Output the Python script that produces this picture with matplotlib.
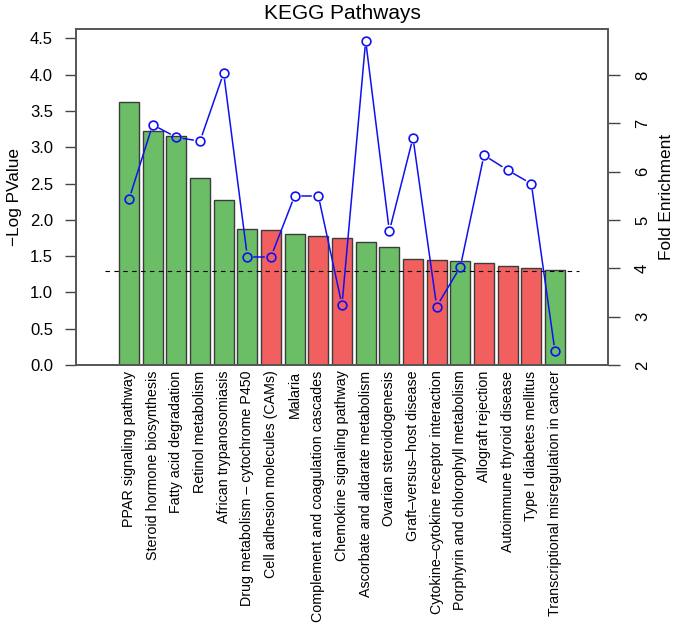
import matplotlib
matplotlib.use("Agg")
import matplotlib.pyplot as plt
import numpy as np

plt.rcParams['font.family'] = ['Liberation Sans', 'DejaVu Sans']

pathways = [
    "PPAR signaling pathway",
    "Steroid hormone biosynthesis",
    "Fatty acid degradation",
    "Retinol metabolism",
    "African trypanosomiasis",
    "Drug metabolism \u2013 cytochrome P450",
    "Cell adhesion molecules (CAMs)",
    "Malaria",
    "Complement and coagulation cascades",
    "Chemokine signaling pathway",
    "Ascorbate and aldarate metabolism",
    "Ovarian steroidogenesis",
    "Graft\u2013versus\u2013host disease",
    "Cytokine\u2013cytokine receptor interaction",
    "Porphyrin and chlorophyll metabolism",
    "Allograft rejection",
    "Autoimmune thyroid disease",
    "Type I diabetes mellitus",
    "Transcriptional misregulation in cancer",
]
neg_log_p = [3.63, 3.23, 3.15, 2.58, 2.28, 1.87, 1.86, 1.80, 1.78, 1.75,
             1.69, 1.63, 1.46, 1.44, 1.43, 1.41, 1.37, 1.34, 1.31]
fold_enrichment = [5.43, 6.97, 6.71, 6.63, 8.04, 4.24, 4.24, 5.50, 5.50, 3.24,
                   8.71, 4.77, 6.70, 3.21, 4.03, 6.34, 6.03, 5.75, 2.28]
group = ["g", "g", "g", "g", "g", "g", "r", "g", "r", "r",
         "g", "g", "r", "r", "g", "r", "r", "r", "g"]
threshold = 1.3
left_ticks = [0.0, 0.5, 1.0, 1.5, 2.0, 2.5, 3.0, 3.5, 4.0, 4.5]
right_ticks = [2, 3, 4, 5, 6, 7, 8]

colmap = {"g": "#6BBE66", "r": "#F15F5F"}

fig = plt.figure(figsize=(6.75, 6.37), dpi=100)
ax = fig.add_axes([76/675, 1 - 365/637, (608-76)/675, (365-29)/637])
x = np.arange(len(pathways))
ax.bar(x, neg_log_p, width=0.845, color=[colmap[g] for g in group],
       edgecolor="#3c3c3c", linewidth=1.0, zorder=2)
ax.set_xlim(-2.24, len(pathways) - 1 + 2.24)
ax.set_ylim(0, 4.63)
ax.hlines(threshold, -1, len(pathways), colors="black", linestyles=(0, (4, 4)),
          linewidth=0.8, zorder=3)
ax.set_yticks(left_ticks)
ax.set_yticklabels([f"{t:.1f}" for t in left_ticks])
ax.tick_params(axis='y', length=8, width=1, pad=8.5, labelsize=12, color="#444444")
ax.set_xticks(x)
ax.set_xticklabels(pathways, rotation=90, ha='center', va='top', fontsize=10.3)
ax.tick_params(axis='x', length=0, pad=4)
ax.set_ylabel("\u2212Log PValue", fontsize=12.4)
ax.yaxis.set_label_coords(-0.1015, 0.5)
ax.set_title("KEGG Pathways", fontsize=15, pad=7)
for s in ax.spines.values():
    s.set_color("#555555")
    s.set_linewidth(1.2)

ax2 = ax.twinx()
ax2.set_ylim(2.0, 8.95)
ax2.set_xlim(ax.get_xlim())
ax2.set_yticks(right_ticks)
ax2.set_yticklabels([str(t) for t in right_ticks], rotation=90, va='center')
ax2.tick_params(axis='y', length=8.5, width=1, pad=11, labelsize=12, color="#444444")
ax2.set_ylabel("Fold Enrichment", fontsize=12.4, rotation=90)
ax2.yaxis.set_label_coords(1.096, 0.5)
for s in ax2.spines.values():
    s.set_color("#555555")
    s.set_linewidth(1.2)

# points
ax2.plot(x, fold_enrichment, linestyle='none', marker='o', markersize=6.3,
         markerfacecolor='none', markeredgecolor='#1010F0', markeredgewidth=1.2, zorder=5)
# gapped segments (type="b")
fig.canvas.draw()
trans = ax2.transData
inv = trans.inverted()
pts = trans.transform(np.column_stack([x, fold_enrichment]))
gap = 7.0
for i in range(len(pts) - 1):
    p0, p1 = pts[i], pts[i + 1]
    d = p1 - p0
    L = np.hypot(*d)
    if L <= 2 * gap:
        continue
    u = d / L
    a = inv.transform(p0 + u * gap)
    b = inv.transform(p1 - u * gap)
    ax2.plot([a[0], b[0]], [a[1], b[1]], color='#1010F0', linewidth=1.1, zorder=4)

fig.savefig("out.png", dpi=100)
